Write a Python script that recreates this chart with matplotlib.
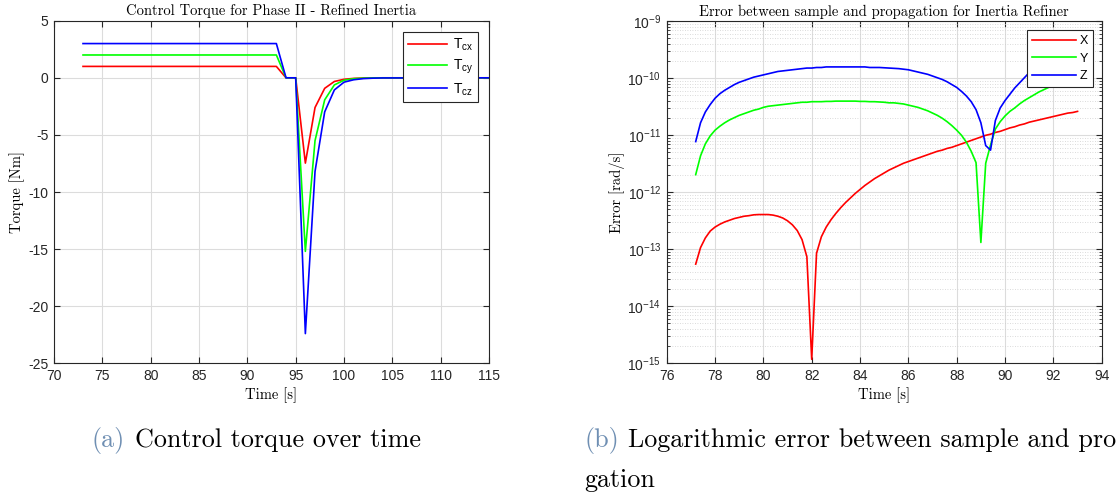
import numpy as np
import matplotlib
matplotlib.use('Agg')
import matplotlib.pyplot as plt
from matplotlib.ticker import LogLocator, MultipleLocator, NullFormatter

plt.rcParams['font.family'] = ['Liberation Sans', 'DejaVu Sans']
plt.rcParams['mathtext.fontset'] = 'custom'
plt.rcParams['mathtext.rm'] = 'Liberation Sans'
plt.rcParams['mathtext.it'] = 'Liberation Sans:italic'
plt.rcParams['mathtext.bf'] = 'Liberation Sans:bold'
plt.rcParams['axes.unicode_minus'] = False

# --- control torque (left panel) ---
t_torque = [73, 93, 94, 95, 96, 97, 98, 99, 100, 101, 102, 103, 104, 115]
T_cx = [1, 1, 0, 0, -7.47, -2.6, -0.92, -0.32, -0.13, -0.05, -0.02, -0.01, 0, 0]
T_cy = [2, 2, 0, 0, -15.2, -5.5, -1.93, -0.62, -0.21, -0.08, -0.03, -0.01, 0, 0]
T_cz = [3, 3, 0, 0, -22.4, -8.2, -2.98, -1.06, -0.38, -0.17, -0.07, -0.03, -0.01, 0]

# --- error between sample and propagation (right panel), sampled every 0.2 s ---
t_err = np.round(np.arange(77.2, 93.01, 0.2), 1)
log_err_x = [
    -13.26, -12.97, -12.80, -12.68, -12.61, -12.56, -12.52, -12.49, -12.46, -12.44,
    -12.42, -12.41, -12.395, -12.39, -12.39, -12.39, -12.40, -12.42, -12.45, -12.50,
    -12.57, -12.67, -12.83, -13.13, -14.93, -13.07, -12.78, -12.61, -12.48, -12.37,
    -12.27, -12.18, -12.10, -12.02, -11.95, -11.88,
    -11.82, -11.76, -11.71, -11.66, -11.61, -11.57, -11.53, -11.49, -11.46, -11.43,
    -11.40, -11.37, -11.34, -11.31, -11.28, -11.26, -11.23, -11.21, -11.18, -11.15,
    -11.12, -11.09, -11.06, -11.03, -11.00, -10.98, -10.95, -10.93, -10.90, -10.87,
    -10.85, -10.82, -10.80, -10.77, -10.75, -10.73, -10.71, -10.69, -10.67, -10.65,
    -10.63, -10.61, -10.60, -10.58]
log_err_y = [
    -11.69, -11.36, -11.15, -11.01, -10.91, -10.84, -10.78, -10.73, -10.69, -10.65,
    -10.62, -10.59, -10.56, -10.54, -10.51, -10.49, -10.48, -10.47, -10.46, -10.45,
    -10.44, -10.43, -10.42, -10.42, -10.41,
    -10.41, -10.41, -10.405, -10.405, -10.40, -10.40, -10.40, -10.40, -10.40, -10.405,
    -10.405, -10.41, -10.41,
    -10.415, -10.42, -10.43, -10.43, -10.44, -10.45, -10.47, -10.49, -10.51, -10.54,
    -10.57, -10.61, -10.65, -10.70, -10.76, -10.83, -10.91, -11.00, -11.12, -11.28,
    -11.48, -12.88, -11.49, -11.17, -10.89, -10.76, -10.66, -10.58, -10.52, -10.45,
    -10.39, -10.34, -10.29, -10.24, -10.20, -10.16, -10.12, -10.09, -10.06, -10.03,
    -10.00, -9.97]
log_err_z = [
    -11.11, -10.78, -10.59, -10.46, -10.35, -10.27, -10.21, -10.16, -10.11, -10.07,
    -10.04, -10.01, -9.98, -9.96, -9.94, -9.92, -9.90, -9.88, -9.87, -9.86,
    -9.85, -9.84, -9.83, -9.82, -9.82, -9.81, -9.81, -9.80, -9.80, -9.80,
    -9.80, -9.80, -9.80, -9.80, -9.80, -9.80, -9.81, -9.81, -9.81,
    -9.815, -9.82, -9.825, -9.83, -9.84, -9.85, -9.87, -9.89, -9.91, -9.93,
    -9.96, -9.99, -10.02, -10.06, -10.11, -10.16, -10.23, -10.31, -10.41, -10.55,
    -10.78, -11.18, -11.26, -10.74, -10.52, -10.39, -10.28, -10.17, -10.08, -9.99,
    -9.90, -9.84, -9.80, -9.76, -9.73, -9.70, -9.67, -9.64, -9.62, -9.60,
    -9.58]

err_x = 10.0 ** np.array(log_err_x)
err_y = 10.0 ** np.array(log_err_y)
err_z = 10.0 ** np.array(log_err_z)

axis_col = '#262626'
grid_col = '#dcdcdc'
serif = 'cmr10'


def matlab_style(ax):
    for s in ax.spines.values():
        s.set_color(axis_col)
        s.set_linewidth(0.8)
    ax.tick_params(which='both', direction='in', top=True, right=True,
                   colors=axis_col, labelsize=10, labelcolor='#262626')
    ax.tick_params(which='major', length=4, pad=4)
    ax.tick_params(which='minor', length=2)
    ax.set_axisbelow(True)


fig = plt.figure(figsize=(11.16, 4.97), dpi=100)

# left panel
ax1 = fig.add_axes([0.0484, 0.269, 0.3898, 0.6893])
ax1.plot(t_torque, T_cx, color='#ff0000', lw=1.2, label=r'T$_{\rm cx}$')
ax1.plot(t_torque, T_cy, color='#00ff00', lw=1.2, label=r'T$_{\rm cy}$')
ax1.plot(t_torque, T_cz, color='#0000ff', lw=1.2, label=r'T$_{\rm cz}$')
ax1.set_xlim(70, 115)
ax1.set_ylim(-25, 5)
ax1.xaxis.set_major_locator(MultipleLocator(5))
ax1.yaxis.set_major_locator(MultipleLocator(5))
ax1.grid(True, color=grid_col, lw=0.8)
matlab_style(ax1)
ax1.set_title('Control Torque for Phase II - Refined Inertia', fontfamily=serif, fontsize=10.5, pad=4)
ax1.set_xlabel('Time [s]', fontfamily=serif, fontsize=10.5, labelpad=3)
ax1.set_ylabel('Torque [Nm]', fontfamily=serif, fontsize=10.5, labelpad=2)
leg1 = ax1.legend(loc='upper right', fontsize=10, fancybox=False, framealpha=1,
                  edgecolor=axis_col, handlelength=2.8, handletextpad=0.4,
                  borderaxespad=0.8, labelspacing=0.35, borderpad=0.35)
leg1.get_frame().set_linewidth(0.8)

# right panel
ax2 = fig.add_axes([0.5974, 0.269, 0.3898, 0.6881])
ax2.plot(t_err, err_x, color='#ff0000', lw=1.2, label='X')
ax2.plot(t_err, err_y, color='#00ff00', lw=1.2, label='Y')
ax2.plot(t_err, err_z, color='#0000ff', lw=1.2, label='Z')
ax2.set_yscale('log')
ax2.set_xlim(76, 94)
ax2.set_ylim(1e-15, 1e-9)
ax2.xaxis.set_major_locator(MultipleLocator(2))
ax2.yaxis.set_major_locator(LogLocator(base=10, numticks=10))
ax2.yaxis.set_minor_locator(LogLocator(base=10, subs=np.arange(2, 10), numticks=20))
ax2.yaxis.set_minor_formatter(NullFormatter())
ax2.grid(True, which='major', color=grid_col, lw=0.8)
ax2.grid(True, which='minor', axis='y', color='#cfcfcf', lw=0.6, linestyle=(0, (1, 2)))
matlab_style(ax2)
ax2.set_title('Error between sample and propagation for Inertia Refiner', fontfamily=serif, fontsize=10.5, pad=4)
ax2.set_xlabel('Time [s]', fontfamily=serif, fontsize=10.5, labelpad=3)
ax2.set_ylabel('Error [rad/s]', fontfamily=serif, fontsize=10.5, labelpad=2)
leg2 = ax2.legend(loc='upper right', fontsize=9, fancybox=False, framealpha=1,
                  edgecolor=axis_col, handlelength=3.5, handletextpad=0.3,
                  borderaxespad=0.7, labelspacing=0.45, borderpad=0.4)
leg2.get_frame().set_linewidth(0.8)

# sub-figure captions
cap_blue = '#6f8fb3'
cap_size = 18.8
fig.text(92 / 1116, 1 - 440 / 497, '(a)', color=cap_blue, fontfamily=serif, fontsize=cap_size, va='center')
fig.text(135 / 1116, 1 - 440 / 497, 'Control torque over time', color='black', fontfamily=serif, fontsize=cap_size, va='center')
fig.text(584 / 1116, 1 - 440 / 497, '(b)', color=cap_blue, fontfamily=serif, fontsize=cap_size, va='center')
fig.text(628 / 1116, 1 - 440 / 497, 'Logarithmic error between sample and pro-', color='black', fontfamily=serif, fontsize=cap_size, va='center')
fig.text(584 / 1116, 1 - 480 / 497, 'gation', color='black', fontfamily=serif, fontsize=cap_size, va='center')

fig.savefig('out.png', dpi=100)
